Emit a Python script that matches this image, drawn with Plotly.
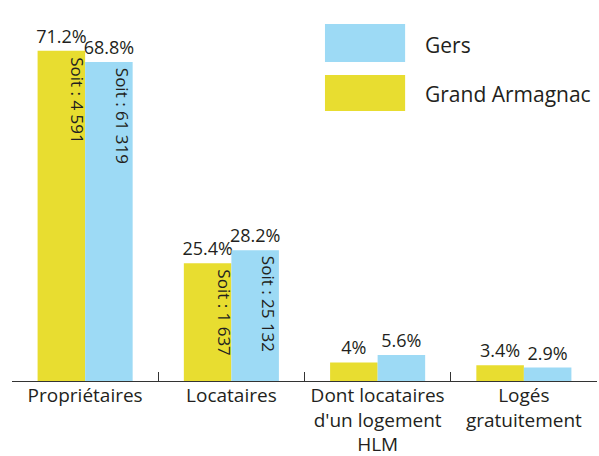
import plotly.graph_objects as go

categories = ["Propriétaires", "Locataires", "Dont locataires<br>d'un logement<br>HLM", "Logés<br>gratuitement"]
grand_armagnac = [71.2, 25.4, 4.0, 3.4]
gers = [68.8, 28.2, 5.6, 2.9]
ga_counts = ["Soit : 4 591", "Soit : 1 637", None, None]
gers_counts = ["Soit : 61 319", "Soit : 25 132", None, None]
series_names = ["Grand Armagnac", "Gers"]

YELLOW = "#E8DD30"
BLUE = "#9DDAF5"
TXT = "#231f20"
FONT = "Open Sans"

def pct(v):
    s = f"{v:.1f}".rstrip("0").rstrip(".")
    return s + "%"

fig = go.Figure()
fig.add_trace(go.Bar(
    x=categories, y=grand_armagnac, name=series_names[0],
    marker=dict(color=YELLOW, line=dict(width=0)),
    text=[pct(v) for v in grand_armagnac], textposition="outside", constraintext="none",
    textfont=dict(size=18, color=TXT, family=FONT), cliponaxis=False,
))
fig.add_trace(go.Bar(
    x=categories, y=gers, name=series_names[1],
    marker=dict(color=BLUE, line=dict(width=0)),
    text=[pct(v) for v in gers], textposition="outside", constraintext="none",
    textfont=dict(size=18, color=TXT, family=FONT), cliponaxis=False,
))

annotations = []
for cat, v, t in zip(categories, grand_armagnac, ga_counts):
    if t:
        annotations.append(dict(x=cat, y=v, xref="x", yref="y", text=t, textangle=90,
                                showarrow=False, xanchor="center", yanchor="top",
                                xshift=-7, yshift=-4,
                                font=dict(size=17, color=TXT, family=FONT)))
for cat, v, t in zip(categories, gers, gers_counts):
    if t:
        annotations.append(dict(x=cat, y=v, xref="x", yref="y", text=t, textangle=90,
                                showarrow=False, xanchor="center", yanchor="top",
                                xshift=37, yshift=-4,
                                font=dict(size=17, color=TXT, family=FONT)))

# custom legend (large swatches)
shapes = [
    dict(type="rect", xref="paper", yref="paper", x0=0.535, x1=0.672, y0=0.860, y1=0.962,
         fillcolor=BLUE, line=dict(width=0)),
    dict(type="rect", xref="paper", yref="paper", x0=0.535, x1=0.672, y0=0.728, y1=0.825,
         fillcolor=YELLOW, line=dict(width=0)),
]
annotations.append(dict(x=0.703, y=0.906, xref="paper", yref="paper", text=series_names[1],
                        showarrow=False, xanchor="left", yanchor="middle",
                        font=dict(size=21, color=TXT, family=FONT)))
annotations.append(dict(x=0.703, y=0.774, xref="paper", yref="paper", text=series_names[0],
                        showarrow=False, xanchor="left", yanchor="middle",
                        font=dict(size=21, color=TXT, family=FONT)))

fig.update_layout(
    width=599, height=456,
    margin=dict(l=12, r=2, t=10, b=75, autoexpand=False),
    paper_bgcolor="white", plot_bgcolor="white",
    barmode="group", bargap=0.35, bargroupgap=0,
    showlegend=False,
    shapes=shapes, annotations=annotations,
    font=dict(family=FONT, color=TXT),
)
fig.update_xaxes(type="category", tickson="boundaries", ticks="inside", ticklen=9,
                 range=[-0.5, 3.5], automargin=False, ticklabelstandoff=-3, tickangle=0,
                 tickcolor="#333333", showline=True, linecolor="#333333", linewidth=1.2,
                 tickfont=dict(size=19, color=TXT, family=FONT), showgrid=False)
fig.update_yaxes(visible=False, range=[0, 80], showgrid=False, zeroline=False, automargin=False)

fig.write_html("out.html", config={"displayModeBar": False},
               post_script="document.body.style.margin='0';document.body.style.overflow='hidden';")
